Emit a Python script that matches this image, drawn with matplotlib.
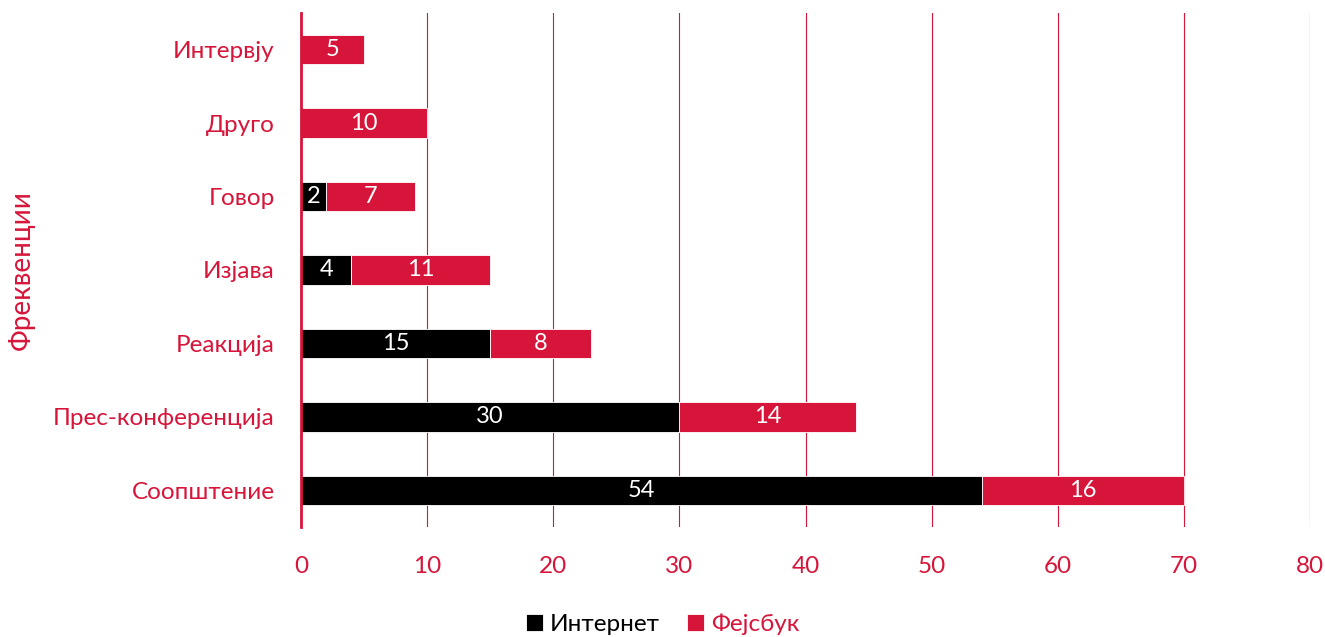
import matplotlib.pyplot as plt
import numpy as np

# podatoci (od dolu nagore)
categories = ["Соопштение", "Прес-конференција", "Реакција", "Изјава", "Говор", "Друго", "Интервју"]
internet = [54, 30, 15, 4, 2, 0, 0]
facebook = [16, 14, 8, 11, 7, 10, 5]
series_names = ["Интернет", "Фејсбук"]

red = "#D7153A"
plt.rcParams['font.family'] = ['Lato', 'DejaVu Sans']

fig = plt.figure(figsize=(13.25, 6.37), dpi=100)
ax = fig.add_axes([0.2272, 0.1727, 0.9887 - 0.2272, 0.9796 - 0.1727])

y = np.arange(len(categories))
h = 0.4
b1 = ax.barh(y, internet, height=h, color="black", edgecolor="white", linewidth=0.6,
             label=series_names[0], zorder=3)
b2 = ax.barh(y, facebook, left=internet, height=h, color=red, edgecolor="white", linewidth=0.6,
             label=series_names[1], zorder=3)

for bars, vals, lefts in [(b1, internet, [0] * len(internet)), (b2, facebook, internet)]:
    for yi, v, l in zip(y, vals, lefts):
        if v > 0:
            ax.text(l + v / 2, yi, str(v), ha="center", va="center", color="white",
                    fontsize=17, zorder=4)

ax.set_xlim(0, 80)
ax.set_ylim(-0.5, 6.5)
ax.set_xticks(range(0, 81, 10))
ax.set_yticks(y)
ax.set_yticklabels(categories)
ax.tick_params(axis="both", length=0, colors=red, labelsize=17.5)
ax.tick_params(axis="x", pad=21)
ax.tick_params(axis="y", pad=19)

ax.grid(axis="x", color=red, linewidth=0.8, zorder=0)
for s in ["top", "right", "bottom"]:
    ax.spines[s].set_visible(False)
ax.spines["left"].set_color(red)
ax.spines["left"].set_linewidth(2)
ax.spines["left"].set_zorder(5)

fig.text(0.016, 0.576, "Фреквенции", rotation=90, ha="center", va="center", color=red, fontsize=20)

leg = fig.legend(handles=[b1, b2], loc="center", bbox_to_anchor=(0.5, 0.02), ncol=2,
                 frameon=False, fontsize=17.5, handlelength=0.7, handleheight=0.7,
                 handletextpad=0.3, columnspacing=1.1)
leg.get_texts()[0].set_color("black")
leg.get_texts()[1].set_color(red)

fig.savefig("out.png", dpi=100)
